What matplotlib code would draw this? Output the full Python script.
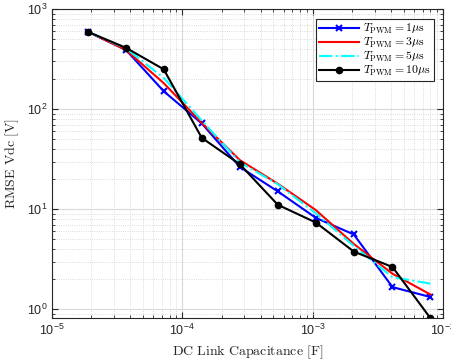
import numpy as np
import matplotlib
matplotlib.use("Agg")
import matplotlib.pyplot as plt

# DC link capacitance [F]
cap = [1.9e-5, 3.7e-5, 7.2e-5, 1.41e-4, 2.76e-4, 5.4e-4, 1.06e-3, 2.07e-3, 4.1e-3, 8.0e-3]

# RMSE Vdc [V] for each PWM period
rmse_1us = [590, 390, 151, 72, 26.5, 15.1, 8.2, 5.6, 1.67, 1.33]
rmse_3us = [590, 390, 182, 73, 31, 18, 9.8, 4.5, 2.27, 1.41]
rmse_5us = [590, 405, 205, 77, 29.5, 17.8, 9.1, 4.3, 2.1, 1.81]
rmse_10us = [590, 410, 250, 51.7, 28.2, 11.1, 7.36, 3.78, 2.65, 0.82]

labels = [r'$T_{\mathrm{PWM}} = 1\mu\mathrm{s}$',
          r'$T_{\mathrm{PWM}} = 3\mu\mathrm{s}$',
          r'$T_{\mathrm{PWM}} = 5\mu\mathrm{s}$',
          r'$T_{\mathrm{PWM}} = 10\mu\mathrm{s}$']

plt.rcParams['font.family'] = ['Liberation Sans', 'DejaVu Sans']

fig = plt.figure(figsize=(4.52, 3.62), dpi=100)
ax = fig.add_axes([0.115, 0.1215, 0.865, 0.8535])

ax.plot(cap, rmse_1us, color='blue', lw=1.5, marker='x', ms=5, mew=1.5, label=labels[0])
ax.plot(cap, rmse_3us, color='red', lw=1.5, label=labels[1])
ax.plot(cap, rmse_5us, color='cyan', lw=1.5, ls='-.', label=labels[2])
ax.plot(cap, rmse_10us, color='black', lw=1.5, marker='o', ms=4.5, label=labels[3])

ax.set_xscale('log')
ax.set_yscale('log')
ax.set_xlim(1e-5, 1e-2)
ax.set_ylim(0.82, 1e3)

ax.grid(True, which='major', color='#d9d9d9', lw=0.8, ls='-')
ax.grid(True, which='minor', color='#d0d0d0', lw=0.6, ls=':')
ax.set_axisbelow(True)

ax.tick_params(which='both', direction='in', top=True, right=True, labelsize=9, colors='#262626')
ax.tick_params(which='major', length=4)
ax.tick_params(which='minor', length=2)
for s in ax.spines.values():
    s.set_color('#262626')
    s.set_linewidth(0.8)

xl = ax.set_xlabel(r'$\mathrm{DC\ Link\ Capacitance\ [F]}$', fontsize=10, color='#262626')
yl = ax.set_ylabel(r'$\mathrm{RMSE\ Vdc\ [V]}$', fontsize=10, color='#262626')
xl.set_math_fontfamily('cm')
yl.set_math_fontfamily('cm')

leg = ax.legend(loc='upper right', bbox_to_anchor=(0.985, 0.98), fontsize=8.5, fancybox=False,
                edgecolor='#262626', framealpha=1, handlelength=3.4, borderpad=0.25,
                labelspacing=0.0, handletextpad=0.3, borderaxespad=0.3)
leg.get_frame().set_linewidth(0.8)
for t in leg.get_texts():
    t.set_math_fontfamily('cm')

fig.savefig('out.png', dpi=100)
